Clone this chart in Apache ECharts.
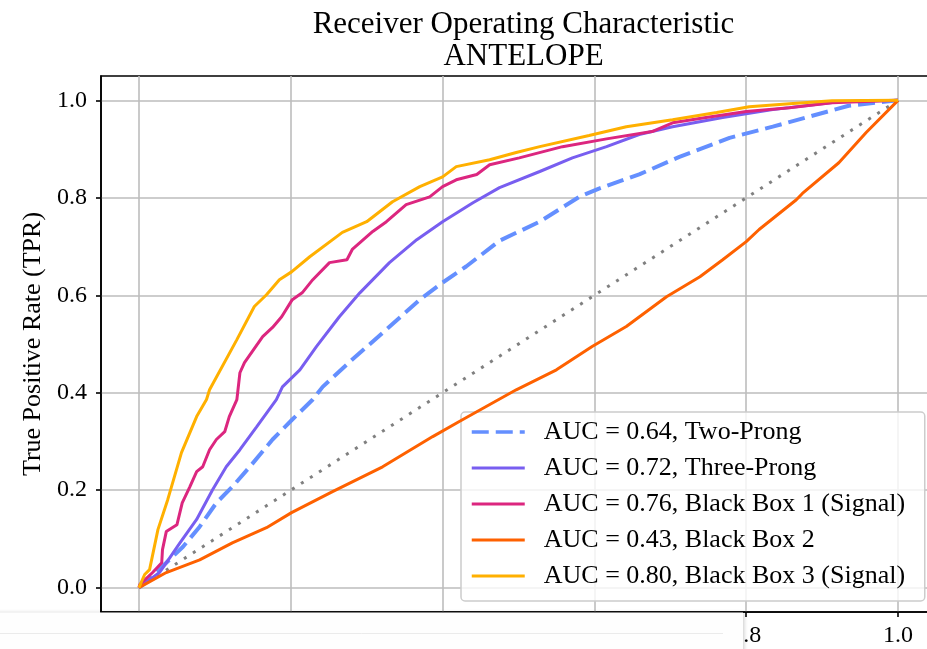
<!DOCTYPE html>
<html>
<head>
<meta charset="utf-8">
<title>ROC - ANTELOPE</title>
<script src="https://cdn.jsdelivr.net/npm/echarts@6/dist/echarts.min.js"></script>
<style>
  html, body { margin: 0; padding: 0; background: #ffffff; }
  #chart { width: 927px; height: 649px; }
</style>
</head>
<body>
<div id="chart"></div>
<script>
// ROC curves (false positive rate vs true positive rate) per tagger
const tickValues = [0.0, 0.2, 0.4, 0.6, 0.8, 1.0];

const chanceFpr = [0, 1];
const chanceTpr = [0, 1];

const twoProngFpr = [0, 0.005, 0.036, 0.058, 0.080, 0.102, 0.123, 0.146, 0.176, 0.202, 0.229, 0.242, 0.281, 0.321, 0.370, 0.400, 0.431, 0.475, 0.528, 0.580, 0.606, 0.659, 0.712, 0.778, 0.835, 0.879, 0.935, 1.0];
const twoProngTpr = [0, 0.006, 0.051, 0.084, 0.125, 0.174, 0.207, 0.248, 0.304, 0.345, 0.386, 0.412, 0.468, 0.523, 0.591, 0.626, 0.659, 0.712, 0.751, 0.802, 0.819, 0.848, 0.884, 0.923, 0.946, 0.965, 0.989, 1.0];

const threeProngFpr = [0, 0.027, 0.036, 0.054, 0.076, 0.097, 0.115, 0.133, 0.155, 0.181, 0.189, 0.212, 0.234, 0.264, 0.291, 0.330, 0.366, 0.400, 0.440, 0.475, 0.528, 0.571, 0.616, 0.659, 0.703, 0.769, 0.835, 0.922, 1.0];
const threeProngTpr = [0, 0.031, 0.051, 0.092, 0.140, 0.201, 0.248, 0.283, 0.330, 0.386, 0.412, 0.447, 0.495, 0.556, 0.605, 0.667, 0.714, 0.751, 0.790, 0.821, 0.854, 0.882, 0.905, 0.930, 0.946, 0.965, 0.981, 0.997, 1.0];

const blackBox1Fpr = [0, 0.001, 0.018, 0.030, 0.031, 0.036, 0.050, 0.057, 0.067, 0.076, 0.084, 0.093, 0.102, 0.113, 0.119, 0.129, 0.133, 0.139, 0.163, 0.176, 0.188, 0.202, 0.215, 0.229, 0.251, 0.274, 0.281, 0.308, 0.326, 0.352, 0.383, 0.400, 0.418, 0.445, 0.462, 0.501, 0.558, 0.616, 0.676, 0.703, 0.747, 0.800, 0.857, 0.913, 1.0];
const blackBox1Tpr = [0, 0.006, 0.031, 0.051, 0.078, 0.115, 0.129, 0.174, 0.207, 0.238, 0.248, 0.283, 0.304, 0.320, 0.351, 0.386, 0.441, 0.462, 0.515, 0.534, 0.556, 0.591, 0.605, 0.632, 0.667, 0.673, 0.694, 0.731, 0.751, 0.786, 0.802, 0.823, 0.837, 0.848, 0.868, 0.882, 0.905, 0.921, 0.936, 0.954, 0.965, 0.977, 0.985, 0.995, 1.0];

const blackBox2Fpr = [0, 0.036, 0.080, 0.123, 0.168, 0.201, 0.255, 0.321, 0.387, 0.422, 0.497, 0.550, 0.597, 0.642, 0.695, 0.739, 0.769, 0.800, 0.817, 0.866, 0.874, 0.922, 0.958, 1.0];
const blackBox2Tpr = [0, 0.031, 0.057, 0.092, 0.123, 0.154, 0.197, 0.248, 0.310, 0.341, 0.406, 0.447, 0.495, 0.536, 0.597, 0.638, 0.673, 0.710, 0.735, 0.796, 0.809, 0.872, 0.934, 1.0];

const blackBox3Fpr = [0, 0.0075, 0.014, 0.025, 0.038, 0.056, 0.076, 0.089, 0.093, 0.129, 0.152, 0.168, 0.185, 0.201, 0.225, 0.268, 0.300, 0.334, 0.370, 0.400, 0.418, 0.462, 0.497, 0.528, 0.593, 0.642, 0.703, 0.761, 0.804, 0.857, 0.913, 1.0];
const blackBox3Tpr = [0, 0.027, 0.037, 0.119, 0.181, 0.277, 0.351, 0.386, 0.406, 0.509, 0.577, 0.601, 0.632, 0.648, 0.679, 0.729, 0.751, 0.792, 0.823, 0.843, 0.864, 0.878, 0.893, 0.905, 0.928, 0.946, 0.960, 0.975, 0.987, 0.993, 0.999, 1.0];

const seriesNames = [
  'AUC = 0.64, Two-Prong',
  'AUC = 0.72, Three-Prong',
  'AUC = 0.76, Black Box 1 (Signal)',
  'AUC = 0.43, Black Box 2',
  'AUC = 0.80, Black Box 3 (Signal)'
];
const seriesColors = ['#648FFF', '#785EF0', '#DC267F', '#FE6100', '#FFB000'];

function zip(xs, ys) {
  return xs.map((x, i) => [x, ys[i]]);
}

const curves = [
  zip(twoProngFpr, twoProngTpr),
  zip(threeProngFpr, threeProngTpr),
  zip(blackBox1Fpr, blackBox1Tpr),
  zip(blackBox2Fpr, blackBox2Tpr),
  zip(blackBox3Fpr, blackBox3Tpr)
];

const FONT = '"Liberation Serif", "Times New Roman", serif';

function curveLineStyle(i) {
  return i === 0
    ? { color: seriesColors[i], width: 4, type: [17, 7], cap: 'butt' }
    : { color: seriesColors[i], width: 3, type: 'solid' };
}

const chart = echarts.init(document.getElementById('chart'), null, { renderer: 'canvas' });

const series = [{
  name: 'chance',
  type: 'line',
  data: zip(chanceFpr, chanceTpr),
  symbol: 'none',
  silent: true,
  lineStyle: { color: '#808080', width: 3, type: [3, 7.7], cap: 'butt' },
  z: 2
}];
curves.forEach((d, i) => {
  series.push({
    name: seriesNames[i],
    type: 'line',
    data: d,
    symbol: 'none',
    showSymbol: false,
    lineStyle: curveLineStyle(i),
    itemStyle: { color: seriesColors[i] },
    z: 3 + i
  });
});

const option = {
  animation: false,
  backgroundColor: '#ffffff',
  title: {
    text: 'Receiver Operating Characteristic\nANTELOPE',
    left: 518.5,
    top: 4,
    textAlign: 'center',
    textStyle: {
      fontFamily: FONT,
      fontSize: 31,
      fontWeight: 'normal',
      color: '#000000',
      lineHeight: 32
    }
  },
  grid: {
    left: 101,
    top: 76,
    width: 835,
    height: 536,
    show: true,
    borderColor: '#000000',
    borderWidth: 1.6,
    backgroundColor: 'transparent',
    containLabel: false,
    outerBoundsMode: 'none'
  },
  legend: {
    data: seriesNames.map((name, i) => ({
      name: name,
      lineStyle: Object.assign({}, curveLineStyle(i), i === 0 ? { width: 3.5 } : {})
    })),
    orient: 'vertical',
    left: 461,
    top: 412,
    itemWidth: 53,
    itemHeight: 14,
    itemGap: 10,
    padding: [7, 11, 12, 9],
    backgroundColor: 'rgba(255,255,255,0.8)',
    borderColor: '#cccccc',
    borderWidth: 1.5,
    borderRadius: 4,
    selectedMode: false,
    itemStyle: { opacity: 0 },
    textStyle: {
      fontFamily: FONT,
      fontSize: 26,
      color: '#000000',
      lineHeight: 26,
      width: 370,
      overflow: 'none',
      padding: [0, 0, 0, 14]
    }
  },
  xAxis: {
    type: 'value',
    min: -0.05,
    max: 1.05,
    axisLine: { show: true, onZero: false, lineStyle: { color: '#000000', width: 1.6 } },
    axisTick: {
      show: true, inside: false, length: 5,
      customValues: tickValues,
      lineStyle: { color: '#000000', width: 1.6 }
    },
    axisLabel: {
      customValues: tickValues,
      margin: 12,
      fontFamily: FONT,
      fontSize: 24,
      color: '#000000',
      formatter: v => v.toFixed(1)
    },
    splitLine: { show: true, lineStyle: { color: '#bdbdbd', width: 1.6 } }
  },
  yAxis: {
    type: 'value',
    min: -0.05,
    max: 1.05,
    name: 'True Positive Rate (TPR)',
    nameLocation: 'middle',
    nameGap: 54,
    nameTextStyle: { fontFamily: FONT, fontSize: 26, color: '#000000' },
    axisLine: { show: true, onZero: false, lineStyle: { color: '#000000', width: 1.6 } },
    axisTick: {
      show: true, inside: false, length: 5,
      customValues: tickValues,
      lineStyle: { color: '#000000', width: 1.6 }
    },
    axisLabel: {
      customValues: tickValues,
      margin: 14,
      fontFamily: FONT,
      fontSize: 24,
      color: '#000000',
      formatter: v => v.toFixed(1)
    },
    splitLine: { show: true, lineStyle: { color: '#bdbdbd', width: 1.6 } }
  },
  series: series,
  graphic: [
    {
      // panel sitting over the lower left of the figure
      type: 'rect',
      z: 100,
      shape: { x: -10, y: 612.5, width: 753, height: 50 },
      style: {
        fill: '#fefefe',
        shadowBlur: 4,
        shadowColor: 'rgba(0,0,0,0.22)',
        shadowOffsetX: 1
      }
    },
    {
      type: 'line',
      z: 101,
      shape: { x1: 0, y1: 633.5, x2: 723, y2: 633.5 },
      style: { stroke: '#ebebeb', lineWidth: 1 }
    }
  ]
};

chart.setOption(option);
</script>
</body>
</html>
